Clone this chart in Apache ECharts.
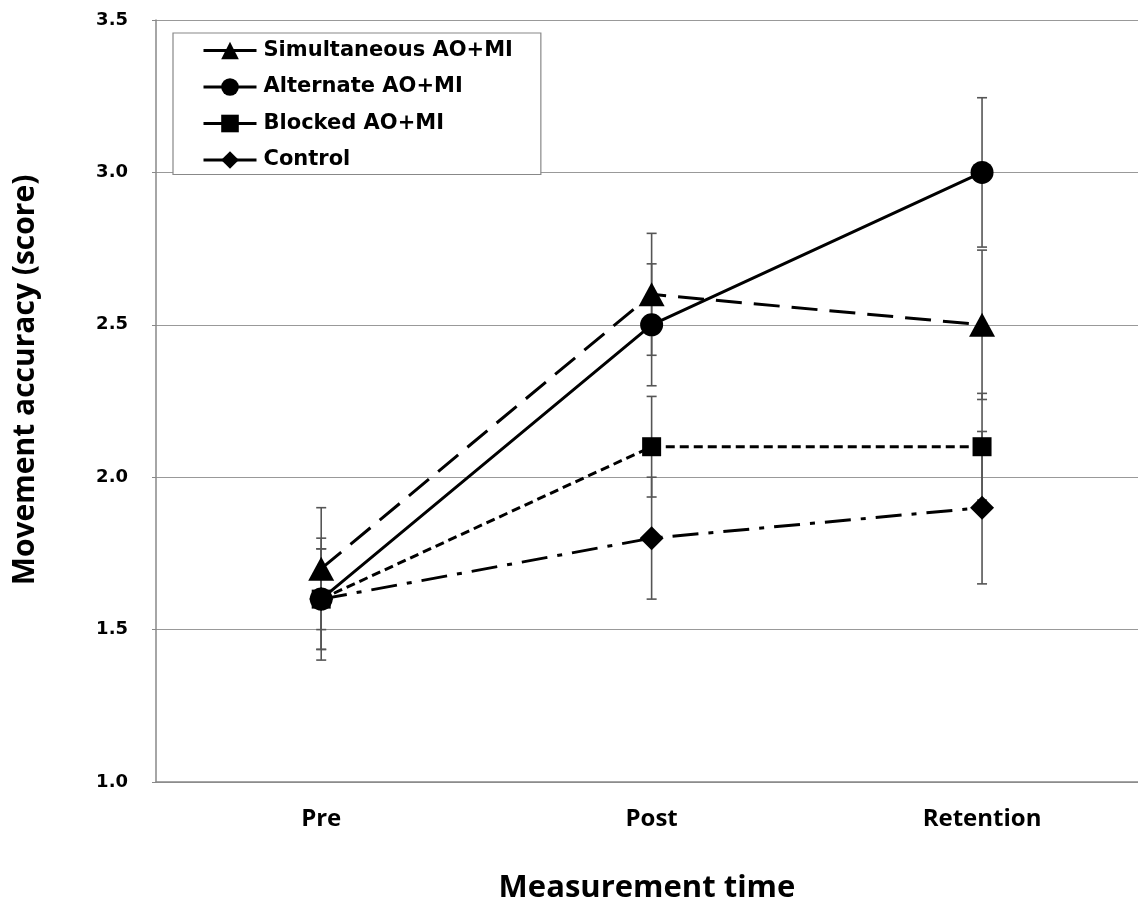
<!DOCTYPE html>
<html>
<head>
<meta charset="utf-8">
<script src="https://cdn.jsdelivr.net/npm/echarts@6/dist/echarts.min.js"></script>
<style>
html,body{margin:0;padding:0;background:#fff;}
#chart{width:1138px;height:909px;}
</style>
</head>
<body>
<div id="chart"></div>
<script>
var categories = ['Pre', 'Post', 'Retention'];
var seriesNames = ['Simultaneous AO+MI', 'Alternate AO+MI', 'Blocked AO+MI', 'Control'];
var simValues = [1.7, 2.6, 2.5];
var altValues = [1.6, 2.5, 3.0];
var blkValues = [1.6, 2.1, 2.1];
var ctlValues = [1.6, 1.8, 1.9];
var simErr = [0.2, 0.2, 0.245];
var altErr = [0.2, 0.2, 0.245];
var blkErr = [0.165, 0.165, 0.175];
var ctlErr = [0.165, 0.2, 0.25];
var yTicks = [1.0, 1.5, 2.0, 2.5, 3.0, 3.5];

var calFont = 'Open Sans';
var chart = echarts.init(document.getElementById('chart'), null, {renderer: 'canvas'});

function pts(vals) {
  return vals.map(function (v, i) { return [i, v]; });
}
function errData(vals, errs) {
  return vals.map(function (v, i) { return [i, v - errs[i], v + errs[i]]; });
}
function errSeries(vals, errs) {
  return {
    type: 'custom',
    z: 1,
    silent: true,
    data: errData(vals, errs),
    encode: {x: 0, y: [1, 2]},
    renderItem: function (params, api) {
      var x = api.value(0);
      var lo = api.coord([x, api.value(1)]);
      var hi = api.coord([x, api.value(2)]);
      var cw = 5;
      var st = {stroke: '#555', lineWidth: 1.6};
      return {
        type: 'group',
        children: [
          {type: 'line', shape: {x1: lo[0], y1: lo[1], x2: hi[0], y2: hi[1]}, style: st},
          {type: 'line', shape: {x1: lo[0] - cw, y1: lo[1], x2: lo[0] + cw, y2: lo[1]}, style: st},
          {type: 'line', shape: {x1: hi[0] - cw, y1: hi[1], x2: hi[0] + cw, y2: hi[1]}, style: st}
        ]
      };
    }
  };
}
function lineSeries(name, vals, symbol, size, dash) {
  return {
    name: name,
    type: 'line',
    z: 3,
    data: pts(vals),
    symbol: symbol,
    symbolSize: size,
    showAllSymbol: true,
    itemStyle: {color: '#000'},
    lineStyle: {color: '#000', width: 3, type: dash},
    emphasis: {disabled: true}
  };
}

var option = {
  backgroundColor: '#fff',
  animation: false,
  grid: {left: 156, top: 20, right: 0, bottom: 124, containLabel: false},
  legend: {
    orient: 'vertical',
    left: 173,
    top: 33,
    backgroundColor: '#fff',
    borderColor: '#888',
    borderWidth: 1.2,
    padding: [7, 28, 4, 29],
    itemGap: 15.5,
    itemWidth: 53,
    itemHeight: 22,
    selectedMode: false,
    lineStyle: {type: 'solid', width: 3},
    textStyle: {fontFamily: 'DejaVu Sans', fontWeight: 'bold', fontSize: 21, color: '#000', padding: [0, 0, 0, 2]},
    data: seriesNames
  },
  xAxis: {
    type: 'value',
    min: -0.5,
    max: 2.472,
    axisLine: {show: true, onZero: false, lineStyle: {color: '#888', width: 1.5}},
    axisTick: {show: false},
    splitLine: {show: false},
    axisLabel: {
      margin: 25,
      fontFamily: calFont,
      fontWeight: 'bold',
      fontSize: 24,
      color: '#000',
      customValues: [0, 1, 2],
      formatter: function (v) { return categories[Math.round(v)] || ''; }
    },
    name: 'Measurement time',
    nameLocation: 'middle',
    nameGap: 91,
    nameTextStyle: {fontFamily: calFont, fontWeight: 'bold', fontSize: 31, color: '#000'}
  },
  yAxis: {
    type: 'value',
    min: 1.0,
    max: 3.5,
    interval: 0.5,
    axisLine: {show: true, onZero: false, lineStyle: {color: '#888', width: 1.5}},
    axisTick: {show: true, length: 4, lineStyle: {color: '#888'}},
    splitLine: {show: true, lineStyle: {color: '#999', width: 1}},
    axisLabel: {
      margin: 28,
      fontFamily: 'DejaVu Sans',
      fontWeight: 'bold',
      fontSize: 18,
      color: '#000',
      formatter: function (v) { return v.toFixed(1); }
    },
    name: 'Movement accuracy (score)',
    nameLocation: 'middle',
    nameRotate: 90,
    nameGap: 116,
    nameTextStyle: {fontFamily: calFont, fontWeight: 'bold', fontSize: 30, color: '#000', padding: [0, 0, 0, 42]}
  },
  series: [
    errSeries(simValues, simErr),
    errSeries(altValues, altErr),
    errSeries(blkValues, blkErr),
    errSeries(ctlValues, ctlErr),
    lineSeries(seriesNames[0], simValues, 'triangle', [26, 24], [26, 12]),
    lineSeries(seriesNames[1], altValues, 'circle', 23, 'solid'),
    lineSeries(seriesNames[2], blkValues, 'rect', 19, [9, 5]),
    lineSeries(seriesNames[3], ctlValues, 'diamond', [24, 24], [26, 10, 5, 10])
  ]
};
chart.setOption(option);
</script>
</body>
</html>
